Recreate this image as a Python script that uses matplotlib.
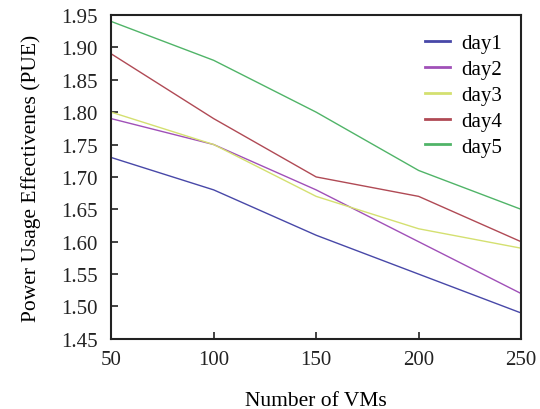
import matplotlib
matplotlib.use("Agg")
import matplotlib.pyplot as plt

plt.rcParams['font.family'] = ['Liberation Serif', 'DejaVu Serif']

vms = [50, 100, 150, 200, 250]
day1 = [1.73, 1.68, 1.61, 1.55, 1.49]
day2 = [1.79, 1.75, 1.68, 1.60, 1.52]
day3 = [1.80, 1.75, 1.67, 1.62, 1.59]
day4 = [1.89, 1.79, 1.70, 1.67, 1.60]
day5 = [1.94, 1.88, 1.80, 1.71, 1.65]
labels = ['day1', 'day2', 'day3', 'day4', 'day5']
colors = ['#4848a8', '#a050b8', '#d4e070', '#b04a55', '#50b468']

fig = plt.figure(figsize=(5.4, 4.1), dpi=100)
ax = fig.add_axes([0.206, 0.171, 0.759, 0.790])
for ys, lab, c in zip([day1, day2, day3, day4, day5], labels, colors):
    ax.plot(vms, ys, color=c, lw=1.0, label=lab)

ax.set_xlim(50, 250)
ax.set_ylim(1.45, 1.95)
ax.set_xticks([50, 100, 150, 200, 250])
ax.set_yticks([1.45, 1.50, 1.55, 1.60, 1.65, 1.70, 1.75, 1.80, 1.85, 1.90, 1.95])
ax.set_yticklabels(['%.2f' % v for v in ax.get_yticks()])
ax.tick_params(direction='in', length=5, width=1.2, labelsize=15, colors='#222222')
ax.tick_params(axis='x', pad=8)
ax.tick_params(axis='y', pad=10)
for s in ax.spines.values():
    s.set_linewidth(1.5)
    s.set_color('#222222')
ax.set_xlabel('Number of VMs', fontsize=15.5, labelpad=16)
ax.set_ylabel('Power Usage Effectivenes (PUE)', fontsize=15.5, labelpad=14)
leg = ax.legend(loc='upper right', frameon=False, fontsize=15, handlelength=1.2,
                handletextpad=0.55, labelspacing=0.3, borderaxespad=0.5)
for h in leg.get_lines():
    h.set_linewidth(2.0)
fig.savefig('out.png', dpi=100)
